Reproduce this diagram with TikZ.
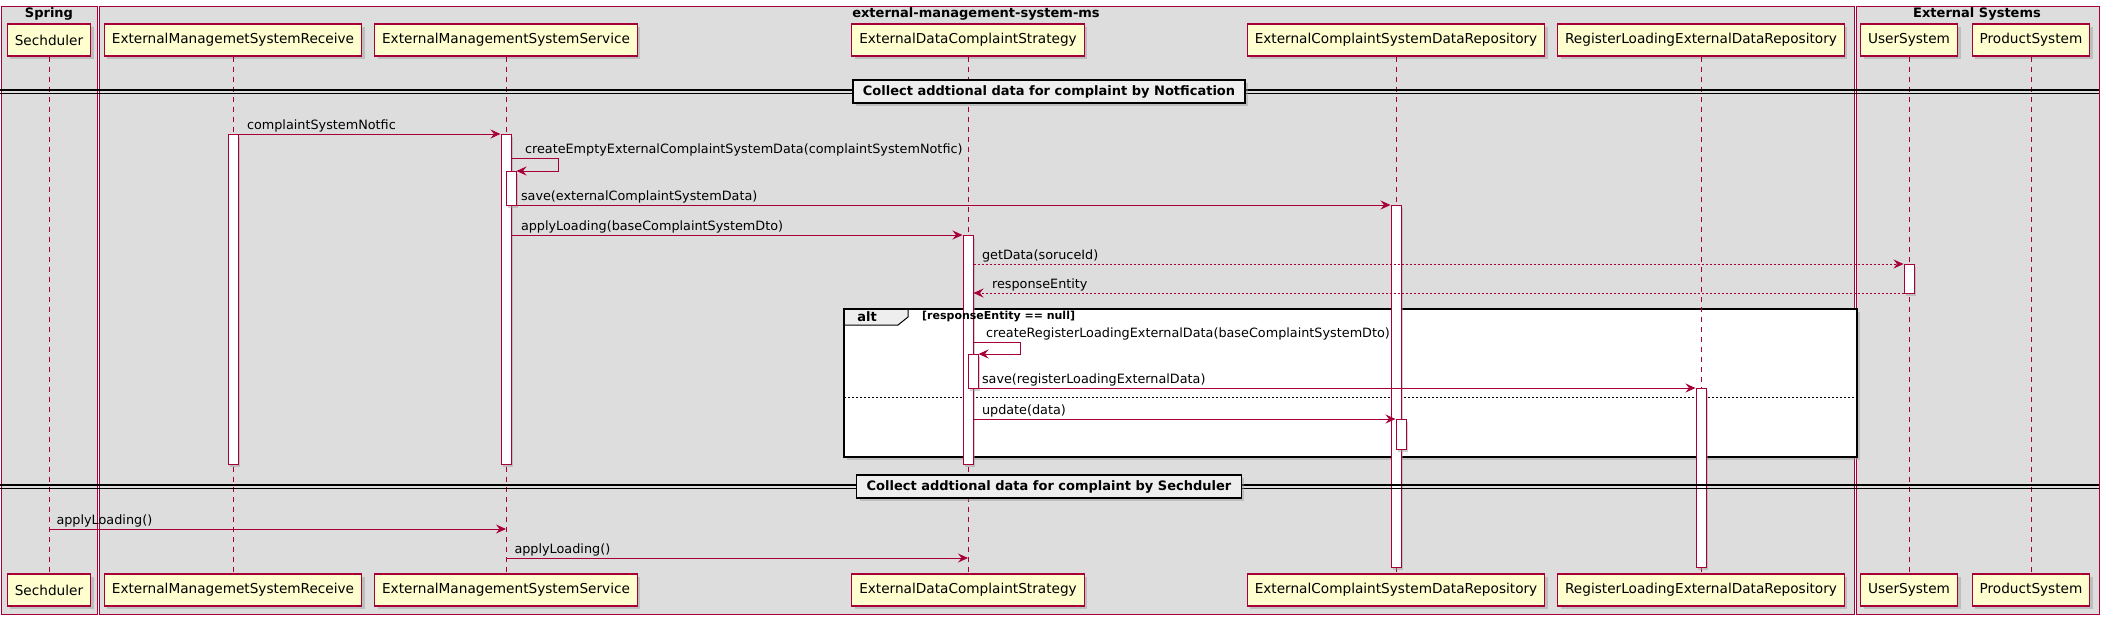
\documentclass[tikz,border=0pt]{standalone}
\usepackage{fontspec}
\setmainfont{DejaVu Sans}
\usetikzlibrary{arrows.meta,shadows}
\definecolor{umlred}{HTML}{A80036}
\definecolor{umlyellow}{HTML}{FEFECE}
\definecolor{groupgray}{HTML}{DDDDDD}
\definecolor{sepgray}{HTML}{EEEEEE}
\begin{document}
\begin{tikzpicture}[x=1pt,y=-1pt]
        % Styles
        \tikzstyle{group box}=[draw=umlred,fill=groupgray,line width=1pt]
        \tikzstyle{group title}=[font=\fontsize{13}{15}\selectfont\bfseries,inner sep=0pt]
        \tikzstyle{participant}=[draw=umlred,fill=umlyellow,line width=1.1pt,minimum height=32pt,inner xsep=7.5pt,font=\fontsize{13.65}{16}\selectfont,drop shadow={shadow xshift=3pt,shadow yshift=-3pt,fill=black!40,opacity=.45}]
        \tikzstyle{lifeline}=[draw=umlred,line width=1pt,dash pattern=on 5pt off 5pt]
        \tikzstyle{act}=[draw=umlred,fill=white,line width=1pt,minimum width=10pt,inner sep=0pt,anchor=north,drop shadow={shadow xshift=2pt,shadow yshift=-2pt,fill=black!40,opacity=.45}]
        \tikzstyle{msg}=[draw=umlred,line width=1pt,-{Stealth[length=10pt,width=9pt,inset=3.5pt]}]
        \tikzstyle{reply}=[msg,dash pattern=on 2pt off 2pt]
        \tikzstyle{msg text}=[anchor=base west,inner sep=0pt,yshift=4.5pt,font=\fontsize{12.8}{15}\selectfont]
        \tikzstyle{sepline}=[black,line width=1.5pt]
        \tikzstyle{sepbox}=[draw=black,fill=sepgray,line width=1.5pt,minimum height=23pt,inner xsep=10pt,font=\fontsize{13}{15}\selectfont\bfseries,drop shadow={shadow xshift=3pt,shadow yshift=-3pt,fill=black!40,opacity=.45}]
        \tikzstyle{alt frame}=[draw=black,fill=white,line width=1.5pt,drop shadow={shadow xshift=3pt,shadow yshift=-3pt,fill=black!40,opacity=.45}]
        \tikzstyle{alt tab}=[draw=black,fill=sepgray,line width=1pt]
        \tikzstyle{else line}=[black,line width=1pt,dash pattern=on 2pt off 2pt]
        \useasboundingbox (0,0) rectangle (2102,619);
        %groups
        \draw[group box] (1.3,6.3) rectangle (97.3,614);
        \draw[group box] (99.3,6.3) rectangle (1854,614);
        \draw[group box] (1856,6.3) rectangle (2099.5,614);
        \node[group title] (g-spring) at (49,14) {Spring};
        \node[group title] (g-ms) at (976,14) {external-management-system-ms};
        \node[group title] (g-ext) at (1977,14) {External Systems};
        %alt frame
        \draw[alt frame] (844,309) rectangle (1857,457);
        \draw[alt tab] (844,309) -- (908,309) -- (908,317) -- (898,325) -- (844,325);
        \draw[black,line width=1.5pt] (844,309) rectangle (1857,457);
        \node[group title] (alt) at (867,317) {alt};
        \draw[else line] (844,397) -- (1857,397);
        %participants
        \foreach \id/\px/\ptext in {sch/49/Sechduler,rcv/233/ExternalManagemetSystemReceive,svc/506/ExternalManagementSystemService,str/968/ExternalDataComplaintStrategy,ecs/1396/ExternalComplaintSystemDataRepository,rld/1701/RegisterLoadingExternalDataRepository,usr/1909/UserSystem,prd/2031/ProductSystem}
        {
            \node[participant] (\id-t) at (\px,40) {\ptext};
            \node[participant] (\id-b) at (\px,590) {\ptext};
            \draw[lifeline] (\id-t) -- (\id-b);
        }
        %activations
        \node[act,minimum height=330pt] (rcv-a) at (233,134) {};
        \node[act,minimum height=330pt] (svc-a) at (506,134) {};
        \node[act,minimum height=34pt] (svc-n) at (511,171) {};
        \node[act,minimum height=229pt] (str-a) at (968,235) {};
        \node[act,minimum height=34pt] (str-n) at (973,354) {};
        \node[act,minimum height=362pt] (ecs-a) at (1396,205) {};
        \node[act,minimum height=30pt] (ecs-n) at (1401,419) {};
        \node[act,minimum height=179pt] (rld-a) at (1701,388) {};
        \node[act,minimum height=29pt] (usr-a) at (1909,264) {};
        \node[group title,anchor=west,font=\fontsize{11}{13}\selectfont\bfseries] (guard) at (922,317) {[responseEntity == null]};
        %messages
        \coordinate (y1) at (0,134);
        \coordinate (y2) at (0,158);
        \coordinate (y3) at (0,205);
        \coordinate (y4) at (0,235);
        \coordinate (y5) at (0,264);
        \coordinate (y6) at (0,293);
        \coordinate (y7) at (0,342);
        \coordinate (y8) at (0,388);
        \coordinate (y9) at (0,419);
        \coordinate (y10) at (0,529);
        \coordinate (y11) at (0,558);
        \draw[msg] (rcv-a.east |- y1) -- node[msg text,pos=0,xshift=8pt] (l1) {complaintSystemNotfic} (svc-a.west |- y1);
        \draw[msg] (svc-a.east |- y2) -- node[msg text,pos=0,xshift=13pt] (l2) {createEmptyExternalComplaintSystemData(complaintSystemNotfic)} ++(47,0) |- (svc-n.north east);
        \draw[msg] (svc-n.east |- y3) -- node[msg text,pos=0,xshift=4pt] (l3) {save(externalComplaintSystemData)} (ecs-a.west |- y3);
        \draw[msg] (svc-a.east |- y4) -- node[msg text,pos=0,xshift=9pt] (l4) {applyLoading(baseComplaintSystemDto)} (str-a.west |- y4);
        \draw[reply] (str-a.east |- y5) -- node[msg text,pos=0,xshift=8pt] (l5) {getData(soruceId)} (usr-a.west |- y5);
        \draw[reply] (usr-a.west |- y6) -- node[msg text,pos=1,xshift=18pt] (l6) {responseEntity} (str-a.east |- y6);
        \draw[msg] (str-a.east |- y7) -- node[msg text,pos=0,xshift=12pt] (l7) {createRegisterLoadingExternalData(baseComplaintSystemDto)} ++(47,0) |- (str-n.north east);
        \draw[msg] (str-n.east |- y8) -- node[msg text,pos=0,xshift=3pt] (l8) {save(registerLoadingExternalData)} (rld-a.west |- y8);
        \draw[msg] (str-a.east |- y9) -- node[msg text,pos=0,xshift=8pt] (l9) {update(data)} (ecs-n.west |- y9);
        \draw[msg] (sch-t |- y10) -- node[msg text,pos=0,xshift=7pt] (l10) {applyLoading()} (svc-t |- y10);
        \draw[msg] (svc-t |- y11) -- node[msg text,pos=0,xshift=8pt] (l11) {applyLoading()} (str-t |- y11);
        %separators
        \foreach \sy in {90,93.3,485,488.3}
            \draw[sepline] (0,\sy) -- (2099,\sy);
        \node[sepbox] (sep1) at (1049,91.5) {Collect addtional data for complaint by Notfication};
        \node[sepbox] (sep2) at (1049,486.5) {Collect addtional data for complaint by Sechduler};
\end{tikzpicture}
\end{document}
